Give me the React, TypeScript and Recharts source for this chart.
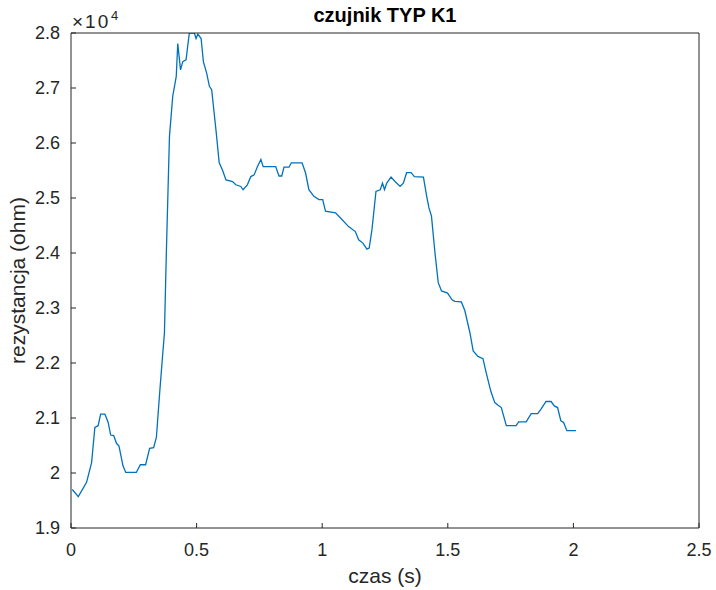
import { Line, LineChart, XAxis, YAxis } from 'recharts'

const czas = [
  0.005, 0.029, 0.062, 0.082, 0.095, 0.108, 0.118, 0.135, 0.148, 0.158, 0.17, 0.181, 0.191, 0.207, 0.218,
  0.26, 0.276, 0.297, 0.313, 0.329, 0.34, 0.353, 0.363, 0.372, 0.379, 0.386, 0.392, 0.405, 0.419, 0.425,
  0.436, 0.445, 0.458, 0.471, 0.491, 0.498, 0.505, 0.518, 0.527, 0.54, 0.551, 0.56, 0.577, 0.59, 0.603,
  0.617, 0.643, 0.656, 0.676, 0.685, 0.702, 0.716, 0.729, 0.742, 0.756, 0.765, 0.815, 0.828, 0.839, 0.848,
  0.868, 0.877, 0.92, 0.934, 0.947, 0.967, 0.987, 1.002, 1.013, 1.053, 1.072, 1.105, 1.132, 1.145, 1.162,
  1.178, 1.187, 1.198, 1.214, 1.231, 1.24, 1.248, 1.257, 1.274, 1.29, 1.31, 1.323, 1.336, 1.354, 1.367,
  1.403, 1.416, 1.425, 1.435, 1.449, 1.462, 1.475, 1.499, 1.517, 1.528, 1.554, 1.568, 1.588, 1.601, 1.62,
  1.64, 1.653, 1.671, 1.687, 1.7, 1.713, 1.733, 1.772, 1.782, 1.812, 1.832, 1.858, 1.871, 1.891, 1.911,
  1.924, 1.937, 1.95, 1.961, 1.974, 2.01,
]

const rezystancja = [
  19700, 19570, 19830, 20190, 20830, 20860, 21070, 21070, 20920, 20690, 20680, 20540, 20490, 20130, 20010,
  20010, 20150, 20150, 20450, 20460, 20650, 21460, 22040, 22550, 23900, 25100, 26120, 26850, 27210, 27810,
  27330, 27480, 27510, 28000, 28000, 27900, 27980, 27900, 27480, 27270, 27030, 26970, 26240, 25640, 25510,
  25330, 25300, 25240, 25210, 25150, 25240, 25390, 25420, 25570, 25700, 25570, 25570, 25400, 25400, 25560,
  25560, 25640, 25640, 25450, 25150, 25030, 24970, 24970, 24760, 24730, 24640, 24480, 24390, 24240, 24180,
  24070, 24090, 24420, 25120, 25150, 25270, 25150, 25270, 25380, 25300, 25210, 25270, 25460, 25460, 25390,
  25380, 25030, 24820, 24670, 24000, 23460, 23310, 23270, 23150, 23120, 23110, 22950, 22550, 22220, 22120,
  22080, 21820, 21490, 21280, 21230, 21190, 20860, 20860, 20930, 20930, 21080, 21080, 21160, 21300, 21300,
  21220, 21190, 20950, 20920, 20770, 20770,
]

const xTicks = [0, 0.5, 1, 1.5, 2, 2.5]
const yTicks = [19000, 20000, 21000, 22000, 23000, 24000, 25000, 26000, 27000, 28000]

const data = czas.map((t, i) => ({ t, r: rezystancja[i] }))

const AXIS = '#262626'
const FONT = '"Liberation Sans", Arial, sans-serif'

// MATLAB style: 2 instead of 2.0
const fmtY = (v: number) => String(Number((v / 10000).toFixed(1)))

export default function App() {
  return (
    <div style={{ position: 'absolute', left: 0, top: 0, width: 716, height: 590, background: '#fff', fontFamily: FONT }}>
      <div
        style={{
          position: 'absolute',
          left: 71,
          width: 628,
          top: 5,
          lineHeight: '20px',
          textAlign: 'center',
          fontWeight: 'bold',
          fontSize: 20,
          color: '#000',
        }}
      >
        czujnik TYP K1
      </div>
      <span style={{ position: 'absolute', left: 72, top: 12, fontSize: 19, lineHeight: '19px', letterSpacing: 2, color: AXIS }}>×10</span>
      <span style={{ position: 'absolute', left: 111, top: 9, fontSize: 13, lineHeight: '13px', color: AXIS }}>4</span>
      <LineChart width={716} height={590} data={data} margin={{ top: 32, right: 16, bottom: 0, left: 0 }}>
        <XAxis
          dataKey="t"
          type="number"
          domain={[0, 2.5]}
          ticks={xTicks}
          height={62}
          stroke={AXIS}
          tickSize={-5}
          tickMargin={20}
          tick={{ fill: AXIS, fontSize: 18, fontFamily: FONT }}
          label={{ value: 'czas (s)', position: 'insideBottom', offset: 7, fill: AXIS, fontSize: 21, fontFamily: FONT }}
        />
        <XAxis
          xAxisId="top"
          dataKey="t"
          type="number"
          domain={[0, 2.5]}
          ticks={xTicks}
          orientation="top"
          height={1}
          stroke={AXIS}
          tickSize={-5}
          tick={false}
        />
        <YAxis
          type="number"
          domain={[19000, 28000]}
          ticks={yTicks}
          allowDataOverflow
          width={71}
          stroke={AXIS}
          tickSize={-5}
          tickMargin={16}
          tickFormatter={fmtY}
          tick={{ fill: AXIS, fontSize: 18, fontFamily: FONT }}
          label={{ value: 'rezystancja (ohm)', angle: -90, position: 'center', dx: -18, fill: AXIS, fontSize: 21, fontFamily: FONT }}
        />
        <YAxis
          yAxisId="right"
          type="number"
          domain={[19000, 28000]}
          ticks={yTicks}
          orientation="right"
          width={1}
          stroke={AXIS}
          tickSize={-5}
          tick={false}
        />
        <Line dataKey="r" type="linear" stroke="#0072BD" strokeWidth={1.3} dot={false} isAnimationActive={false} />
      </LineChart>
    </div>
  )
}
